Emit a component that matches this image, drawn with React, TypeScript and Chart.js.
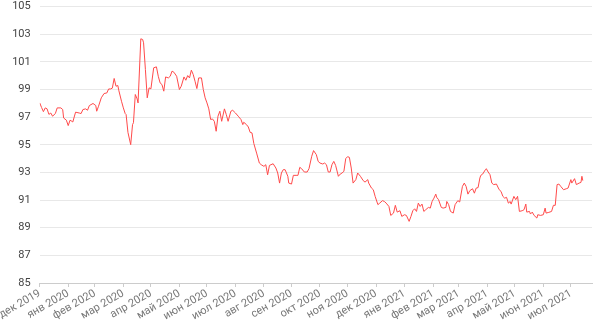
import React, { useEffect, useRef } from "react";
import { Chart, registerables } from "chart.js";

Chart.register(...registerables);

// days since 2019-12-01
const days = [0,2,4,6,8,10,12,14,17,19,23,25,26,29,31,33,35,36,39,43,45,47,50,52,54,58,61,62,64,67,70,73,75,77,79,81,83,85,86,89,91,93,94,96,99,101,102,104,106,107,110,112,113,115,117,119,121,124,127,129,131,133,135,137,140,142,144,146,149,152,154,157,159,161,163,165,167,169,171,173,176,178,180,182,184,186,188,190,192,194,196,198,201,203,205,208,210,213,216,219,221,222,225,227,229,231,233,236,239,241,244,246,248,250,254,257,259,261,263,265,267,270,271,274,276,279,281,283,285,288,291,293,296,298,301,303,305,308,310,312,314,316,318,320,322,325,327,329,331,333,335,337,339,341,344,346,349,352,354,357,358,361,363,365,368,370,373,375,377,380,382,385,387,389,392,394,397,399,402,404,406,408,410,412,414,416,418,420,423,425,427,429,431,432,434,437,439,442,443,445,447,450,452,455,457,460,462,464,466,468,471,473,475,477,479,480,482,485,486,488,490,492,494,497,500,502,504,506,508,510,512,513,516,518,520,522,525,527,529,530,533,534,536,538,541,542,545,548,550,551,554,557,559,561,563,565,567,570,573,575,578,579,582,584,587,589,590,591];

const values = [98.03,97.7,97.4,97.67,97.6,97.2,97.3,97.07,97.26,97.67,97.67,97.55,96.94,96.78,96.39,96.78,96.7,96.65,97.36,97.3,97.26,97.55,97.6,97.5,97.84,97.99,97.84,97.43,97.79,98.4,98.71,98.75,99.04,99.04,99.1,99.8,99.24,99.29,98.95,98.15,97.67,97.26,97.19,95.9,95.01,96.46,96.6,98.64,98.32,98.03,102.67,102.62,102.38,100.45,98.4,99.12,99.05,100.57,100.64,99.96,99.48,99.36,98.88,99.91,99.84,99.96,100.33,100.25,99.96,99.0,99.24,99.91,99.67,100.01,99.84,100.4,100.09,99.6,99.07,99.84,99.84,99.0,98.4,98.03,97.6,96.83,96.87,96.7,95.98,97.07,97.43,96.7,97.6,97.19,96.7,97.43,97.5,97.3,97.07,96.83,96.46,96.63,96.46,96.29,95.9,95.86,95.09,94.4,93.68,93.56,93.44,93.56,92.83,93.51,93.63,93.32,92.96,92.23,92.96,93.2,93.2,92.72,92.23,92.16,92.79,92.79,92.79,93.37,93.27,93.03,93.03,93.27,94.17,94.58,94.29,93.8,93.68,93.61,93.68,93.56,93.03,93.03,93.56,93.8,93.51,92.72,92.88,92.96,93.08,94.0,94.14,94.09,93.32,92.23,92.48,92.96,92.72,92.41,92.3,92.48,92.23,91.87,91.75,91.27,90.67,90.78,90.96,90.9,90.78,90.54,89.89,90.06,90.62,90.13,90.23,89.82,89.94,89.89,89.46,89.82,90.23,90.37,90.18,90.78,90.54,90.71,90.18,90.3,90.47,90.42,90.9,91.14,91.43,91.2,91.03,90.47,90.42,90.47,90.9,90.67,90.18,90.06,90.67,90.96,90.86,91.99,92.23,91.99,91.43,91.68,91.82,91.5,91.87,91.9,92.6,92.79,92.88,93.2,93.27,93.03,92.84,92.23,92.12,92.16,91.75,91.63,91.27,91.14,91.2,90.78,90.9,90.71,91.27,91.03,91.27,90.18,90.23,90.3,90.71,90.13,90.18,89.99,90.13,89.89,89.7,89.94,89.89,89.94,90.42,90.06,90.11,90.18,90.62,90.62,92.12,92.16,91.99,91.75,91.82,91.87,92.48,92.23,92.55,92.12,92.23,92.28,92.72,92.41];

// month tick positions (days since 2019-12-01) and their labels
const monthDays = [0,31,60,91,121,152,182,213,244,274,305,335,366,397,428,456,487,517,548,578];
const monthLabels = ["дек 2019","янв 2020","фев 2020","мар 2020","апр 2020","май 2020","июн 2020","июл 2020","авг 2020","сен 2020","окт 2020","ноя 2020","дек 2020","янв 2021","фев 2021","мар 2021","апр 2021","май 2021","июн 2021","июл 2021"];

const xMin = 0;
const xMax = 601;
const yMin = 85;
const yMax = 105;
const yStep = 2;

export default function App() {
  const ref = useRef<HTMLCanvasElement | null>(null);
  useEffect(() => {
    document.body.style.margin = "0";
    if (!ref.current) return;
    const chart = new Chart(ref.current, {
      type: "line",
      data: {
        datasets: [
          {
            data: days.map((d, i) => ({ x: d, y: values[i] })),
            borderColor: "#ff4a4a",
            borderWidth: 1,
            pointRadius: 0,
            tension: 0,
            fill: false,
          },
        ],
      },
      options: {
        animation: false,
        responsive: true,
        maintainAspectRatio: false,
        layout: { padding: { left: 0, right: 8, top: 0, bottom: 0 } },
        plugins: { legend: { display: false }, tooltip: { enabled: false } },
        scales: {
          x: {
            type: "linear",
            min: xMin,
            max: xMax,
            afterBuildTicks: (scale: any) => {
              scale.ticks = monthDays.map((v) => ({ value: v }));
            },
            grid: { drawOnChartArea: false, drawTicks: true, tickLength: 4, color: "#cccccc" },
            border: { display: true, color: "#cccccc" },
            ticks: {
              autoSkip: false,
              minRotation: 30,
              maxRotation: 30,
              color: "#777777",
              padding: 0,
              font: { family: "Roboto", size: 11 },
              callback: (value: any) => {
                const i = monthDays.indexOf(Number(value));
                return i >= 0 ? monthLabels[i] : "";
              },
            },
          },
          y: {
            min: yMin,
            max: yMax,
            grid: { drawTicks: true, tickLength: 9, tickColor: "rgba(0,0,0,0)", color: "#e8e8e8" },
            border: { display: false },
            ticks: {
              stepSize: yStep,
              padding: 0,
              color: "#444444",
              font: { family: "Roboto", size: 11 },
            },
          },
        },
      },
    });
    return () => chart.destroy();
  }, []);
  return (
    <div style={{ width: 600, height: 323, position: "relative" }}>
      <canvas ref={ref} />
    </div>
  );
}
